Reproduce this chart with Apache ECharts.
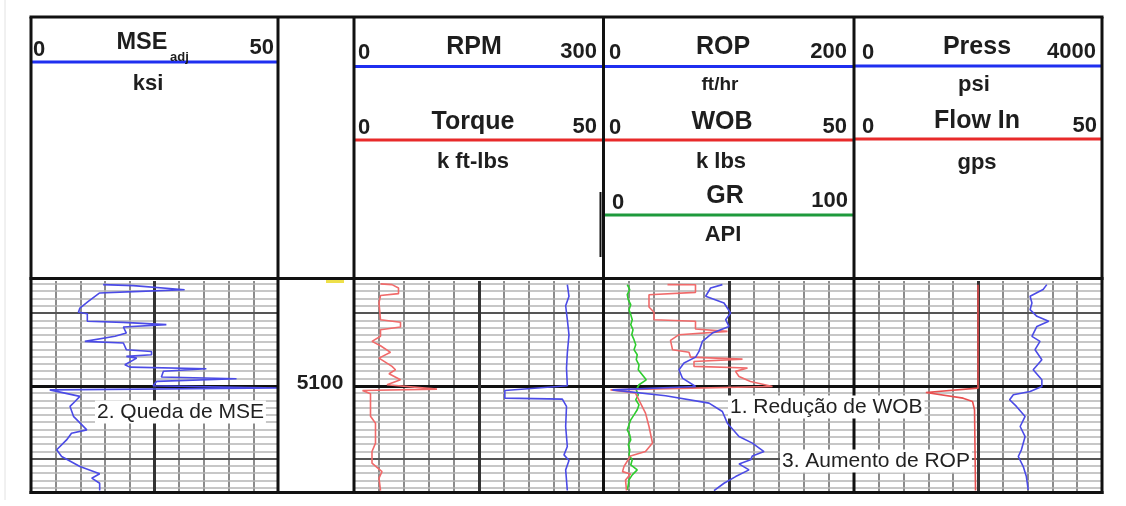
<!DOCTYPE html>
<html>
<head>
<meta charset="utf-8">
<script src="https://cdn.jsdelivr.net/npm/echarts@6.0.0/dist/echarts.min.js"></script>
<style>
html,body{margin:0;padding:0;background:#ffffff;}
#chart{width:1126px;height:506px;}
</style>
</head>
<body>
<div id="chart"></div>
<script>
// ---------- depth axis (ft) ----------
const depthMin = 5028;
const depthMax = 5173;
const depthTickLabel = '5100';

// ---------- Track 1 : MSE adj (0-50 ksi) ----------
const mseDepths = [5030.5,5031.2,5034,5035.3,5036.2,5042,5046.6,5049.5,5050.5,5055.7,5056.4,5058,5059.6,5063.8,5066,5069.5,5070.6,5075.2,5076.4,5078.7,5079.8,5081,5085.6,5087.2,5088.3,5090,5094,5095.2,5097,5100,5101.5,5102.8,5107.3,5110.8,5114.2,5121,5130.3,5132.6,5137.2,5144,5148.6,5155.5,5160.5,5163.5,5167,5172];
const mseValues = [14.6,20.7,31.1,20.7,13.9,11.6,9.9,9.6,11.4,11.4,18.7,27.4,18.7,19.3,17,10.9,18.7,19.3,24.4,24.4,19.3,21.4,19,20,35.5,26.8,26.4,41.6,25.4,24.7,50,3.8,9.9,8.9,7.9,8.6,11.3,8.2,7.2,5.2,6.2,9.9,13.9,12.3,13.9,13.9];

// ---------- Track 2 : RPM (0-300) and Torque (0-50 k ft-lbs) ----------
const rpmDepths = [5030.5,5038.5,5045,5054.6,5065,5077.5,5088,5100,5103.2,5108.5,5109.2,5114.2,5128,5141.7,5147.5,5151.4,5157.8,5172];
const rpmValues = [256,258,254,256,258,256,255,256,181,181,250,255,254,256,252,258,254,256];
const torqueDepths = [5030,5030.5,5032.8,5036.7,5038,5043,5054.6,5056.4,5059.6,5061.5,5066,5069.5,5072.5,5077,5081,5086.7,5089,5091.7,5095.9,5099.3,5102.3,5103.2,5105.5,5121,5125.7,5139.4,5145.2,5153.2,5159,5163.5,5172];
const torqueValues = [5.3,7.6,8.9,8.9,5.3,5.0,5.3,9.3,9.3,5.3,5.3,3.6,5.3,7.3,5.0,7.6,8.3,7,9.3,6.6,16.6,1.7,3.3,3.3,4.3,4.3,3.6,3.6,5.6,5.0,5.3];

// ---------- Track 3 : ROP (0-200 ft/hr), WOB (0-50 k lbs), GR (0-100 API) ----------
const ropDepths = [5030.5,5032.8,5038.5,5043.1,5050,5054.6,5059.2,5063.8,5069.5,5076.4,5080.3,5084.4,5089,5094.7,5100.5,5102.8,5106.9,5111.9,5117.7,5125.7,5134.9,5139.4,5145.2,5148.2,5150.9,5153.7,5157.8,5162.4,5167,5172];
const ropValues = [94.7,85.3,81.3,96,101.3,97.3,100,86.7,78.7,76,73.3,64,60,62.7,73.3,6.7,49.3,84,94.7,98.7,108,118.7,128,118.7,117.3,108,116,105.3,96,88];
const wobDepths = [5030.5,5030.6,5035.8,5037.4,5045.9,5049.5,5054.6,5055.7,5061,5062.6,5064.9,5068.8,5075.2,5077,5080.3,5081.7,5083.3,5086.7,5087.8,5090.1,5093.6,5097,5100.5,5102.8,5105,5111.9,5118.8,5128,5139.4,5145.2,5148.2,5155.5,5159,5160.6,5164.7,5172];
const wobValues = [12.7,18.3,18.3,9,9,10,10,18.3,18.3,24.7,15,13.3,13.7,17,17.3,27.7,18,18,28.7,26.3,27,29.3,33.7,1.3,6.3,7.3,8.3,9,9.7,8.3,5.3,4,3.7,5.3,4.3,4.5];
const grDepths = [5030.5,5033.9,5037.4,5040.8,5044.3,5047.7,5051.1,5054.6,5058,5061.5,5064.9,5068.3,5071.8,5075.2,5078.7,5082.1,5085.6,5089,5092.4,5095.9,5099.3,5102.8,5106.2,5109.6,5113.1,5116.5,5120,5123.4,5126.8,5130.3,5133.7,5137.2,5140.6,5144,5147.5,5150.9,5154.4,5157.8,5161.2,5164.7,5168.1,5171.6];
const grValues = [9.3,10.3,9.3,9.7,10.7,10,10.7,11.3,10.7,11.6,11.1,12,12.7,12,13.3,12.9,14,13.7,15.3,16.9,14,12.9,13.7,12.7,14,13.3,12,10.7,10,9.3,10.3,10.7,9.7,10.3,10,11.3,10.7,13.3,11.3,10,9.7,9.3];

// ---------- Track 4 : Press (0-4000 psi), Flow In (0-50 gps) ----------
const pressDepths = [5030.5,5033.9,5038.5,5043.1,5047.7,5052.3,5055.7,5059.2,5066.1,5069.5,5075.2,5082.1,5089,5095.9,5100.5,5103.9,5106.2,5109.6,5114.2,5121.1,5128,5134.9,5144,5148.6,5155.5,5162.4,5171.6];
const pressValues = [3110,3050,2840,2870,2840,2950,3140,2950,2870,3000,2920,3030,2890,3030,3030,2840,2570,2510,2620,2760,2680,2760,2700,2650,2730,2780,2810];
const flowDepths = [5030.5,5101.6,5104.6,5108.5,5110.8,5116.5,5172];
const flowValues = [25,25,14.5,22,23.9,24.3,24.5];

// ---------- layout ----------
const FONT = '"Liberation Sans", Arial, Helvetica, sans-serif';
const GT = 281, GH = 211;
const grids = [
  {left: 31,  top: GT, width: 247, height: GH},
  {left: 354, top: GT, width: 250, height: GH},
  {left: 604, top: GT, width: 250, height: GH},
  {left: 854, top: GT, width: 248, height: GH}
];
const BLUE = '#4b4be6', RED = '#f06a6a', GREEN = '#2ecc2e';

function pairs(vals, deps) { return vals.map((v, i) => [v, deps[i]]); }

function gridAxis(gi, max, interval) {
  return {gridIndex: gi, type: 'value', min: 0, max: max, interval: interval, position: 'top',
    axisLine: {show: false}, axisTick: {show: false}, axisLabel: {show: false},
    splitLine: {show: true, lineStyle: {color: '#8c8c8c', width: 2}}};
}
function hiddenAxis(gi, max) {
  return {gridIndex: gi, type: 'value', min: 0, max: max, show: false, splitLine: {show: false}};
}

const xAxes = [
  gridAxis(0, 50, 5),     // 0 MSE
  gridAxis(1, 300, 30),   // 1 RPM
  hiddenAxis(1, 50),      // 2 Torque
  gridAxis(2, 200, 20),   // 3 ROP
  hiddenAxis(2, 50),      // 4 WOB
  hiddenAxis(2, 100),     // 5 GR
  gridAxis(3, 4000, 400), // 6 Press
  hiddenAxis(3, 50)       // 7 Flow
];
const yAxes = [0, 1, 2, 3].map(gi => ({
  gridIndex: gi, type: 'value', min: depthMin, max: depthMax, inverse: true,
  axisLine: {show: false}, axisTick: {show: false}, axisLabel: {show: false}, splitLine: {show: false}
}));

// horizontal depth grid lines (every 5 ft, heavier every 50, heaviest at 100)
const depthLines = [];
for (let d = 5030; d <= 5170; d += 5) {
  let ls;
  if (d % 100 === 0) ls = {color: '#111', width: 3, type: 'solid'};
  else if (d % 50 === 0) ls = {color: '#555', width: 2.2, type: 'solid'};
  else ls = {color: '#b4b4b4', width: 1.5, type: 'solid'};
  depthLines.push({yAxis: d, lineStyle: ls});
}
const midValues = [25, 150, 100, 2000];
const mainAxisIdx = [0, 1, 3, 6];

const series = [];
for (let gi = 0; gi < 4; gi++) {
  series.push({
    type: 'line', xAxisIndex: mainAxisIdx[gi], yAxisIndex: gi, data: [], z: 1, silent: true,
    markLine: {silent: true, symbol: ['none', 'none'], label: {show: false}, animation: false,
      data: depthLines.concat([{xAxis: midValues[gi], lineStyle: {color: '#333', width: 3, type: 'solid'}}])}
  });
}
function curve(xi, yi, data, color) {
  return {type: 'line', xAxisIndex: xi, yAxisIndex: yi, data: data, z: 5, symbol: 'none', showSymbol: false,
    silent: true, lineStyle: {color: color, width: 1.6}, itemStyle: {color: color}};
}
series.push(curve(0, 0, pairs(mseValues, mseDepths), BLUE));
series.push(curve(2, 1, pairs(torqueValues, torqueDepths), RED));
series.push(curve(1, 1, pairs(rpmValues, rpmDepths), BLUE));
series.push(curve(5, 2, pairs(grValues, grDepths), GREEN));
series.push(curve(4, 2, pairs(wobValues, wobDepths), RED));
series.push(curve(3, 2, pairs(ropValues, ropDepths), BLUE));
series.push(curve(7, 3, pairs(flowValues, flowDepths), '#e85050'));
series.push(curve(6, 3, pairs(pressValues, pressDepths), BLUE));

// ---------- header / frame graphics ----------
function ln(x1, y1, x2, y2, color, w, z) {
  return {type: 'line', z: z || 50, silent: true, shape: {x1: x1, y1: y1, x2: x2, y2: y2}, style: {stroke: color, lineWidth: w}};
}
function tx(x, y, s, size, align, o) {
  o = o || {};
  const st = {text: s, fill: o.fill || '#1e1e1e', fontSize: size, fontWeight: o.weight || 'bold', fontFamily: FONT,
    textAlign: align, textVerticalAlign: 'middle', align: align, verticalAlign: 'middle'};
  if (o.bg) { st.backgroundColor = o.bg; st.padding = o.pad || [2, 3]; }
  return {type: 'text', z: o.z || 60, silent: true, x: x, y: y, style: st};
}
const HB = '#1f2ff0', HR = '#e82a2a', HG = '#1e9a3c', K = '#111';
const TS = 25, NS = 22, US = 22;
const graphics = [
  ln(5, 0, 5, 500, '#e2e2e2', 1, 10),
  {type: 'rect', z: 49, silent: true, shape: {x: 326, y: 279, width: 18, height: 4}, style: {fill: '#eee04a'}},
  // frame
  ln(29.5, 17, 1103.5, 17, K, 3),
  ln(29.5, 278.5, 1103.5, 278.5, K, 3),
  ln(29.5, 492.5, 1103.5, 492.5, K, 3),
  ln(31, 17, 31, 494, K, 3),
  ln(278, 17, 278, 494, K, 3),
  ln(354, 17, 354, 494, K, 3),
  ln(603.5, 17, 603.5, 494, K, 3),
  ln(600.5, 192, 600.5, 257, K, 2),
  ln(854, 17, 854, 494, K, 3),
  ln(1102, 17, 1102, 494, K, 3),
  // header scale lines
  ln(31, 62, 278, 62, HB, 3, 45),
  ln(354, 66.5, 604, 66.5, HB, 3, 45),
  ln(604, 66.5, 854, 66.5, HB, 3, 45),
  ln(854, 66, 1102, 66, HB, 3, 45),
  ln(354, 140, 604, 140, HR, 3, 45),
  ln(604, 140, 854, 140, HR, 3, 45),
  ln(854, 139, 1102, 139, HR, 3, 45),
  ln(604, 215, 854, 215, HG, 3, 45),
  // MSE header
  tx(33, 50, '0', NS, 'left'),
  tx(142, 43, 'MSE', 23.5, 'center'),
  tx(170, 57, 'adj', 13, 'left'),
  tx(274, 48, '50', NS, 'right'),
  tx(148, 84, 'ksi', US, 'center'),
  // RPM / Torque
  tx(358, 53, '0', NS, 'left'),
  tx(474, 47, 'RPM', TS, 'center'),
  tx(597, 52, '300', NS, 'right'),
  tx(358, 128, '0', NS, 'left'),
  tx(473, 122, 'Torque', TS, 'center'),
  tx(597, 127, '50', NS, 'right'),
  tx(473, 162, 'k ft-lbs', US, 'center'),
  // ROP / WOB / GR
  tx(609, 53, '0', NS, 'left'),
  tx(723, 47, 'ROP', TS, 'center'),
  tx(847, 52, '200', NS, 'right'),
  tx(720, 85, 'ft/hr', 19, 'center'),
  tx(609, 128, '0', NS, 'left'),
  tx(722, 122, 'WOB', TS, 'center'),
  tx(847, 127, '50', NS, 'right'),
  tx(721, 162, 'k lbs', US, 'center'),
  tx(612, 203, '0', NS, 'left'),
  tx(725, 196, 'GR', TS, 'center'),
  tx(848, 201, '100', NS, 'right'),
  tx(723, 235, 'API', US, 'center'),
  // Press / Flow In
  tx(862, 53, '0', NS, 'left'),
  tx(977, 47, 'Press', TS, 'center'),
  tx(1096, 52, '4000', NS, 'right'),
  tx(974, 85, 'psi', US, 'center'),
  tx(862, 127, '0', NS, 'left'),
  tx(977, 121, 'Flow In', TS, 'center'),
  tx(1097, 126, '50', NS, 'right'),
  tx(977, 163, 'gps', US, 'center'),
  // depth label
  tx(320, 383, depthTickLabel, 21, 'center'),
  // annotations
  tx(95, 412, '2. Queda de MSE', 21, 'left', {weight: 'normal', fill: '#222', bg: '#ffffff', pad: [1, 2], z: 100}),
  tx(728, 407, '1. Redução de WOB', 21, 'left', {weight: 'normal', fill: '#222', bg: '#ffffff', pad: [1, 2], z: 100}),
  tx(780, 461, '3. Aumento de ROP', 21, 'left', {weight: 'normal', fill: '#222', bg: '#ffffff', pad: [1, 2], z: 100})
];

const chart = echarts.init(document.getElementById('chart'), null, {renderer: 'canvas'});
chart.setOption({
  animation: false,
  backgroundColor: '#ffffff',
  grid: grids.map(g => Object.assign({show: false, containLabel: false, outerBoundsMode: 'none'}, g)),
  xAxis: xAxes,
  yAxis: yAxes,
  series: series,
  graphic: graphics
});
</script>
</body>
</html>
